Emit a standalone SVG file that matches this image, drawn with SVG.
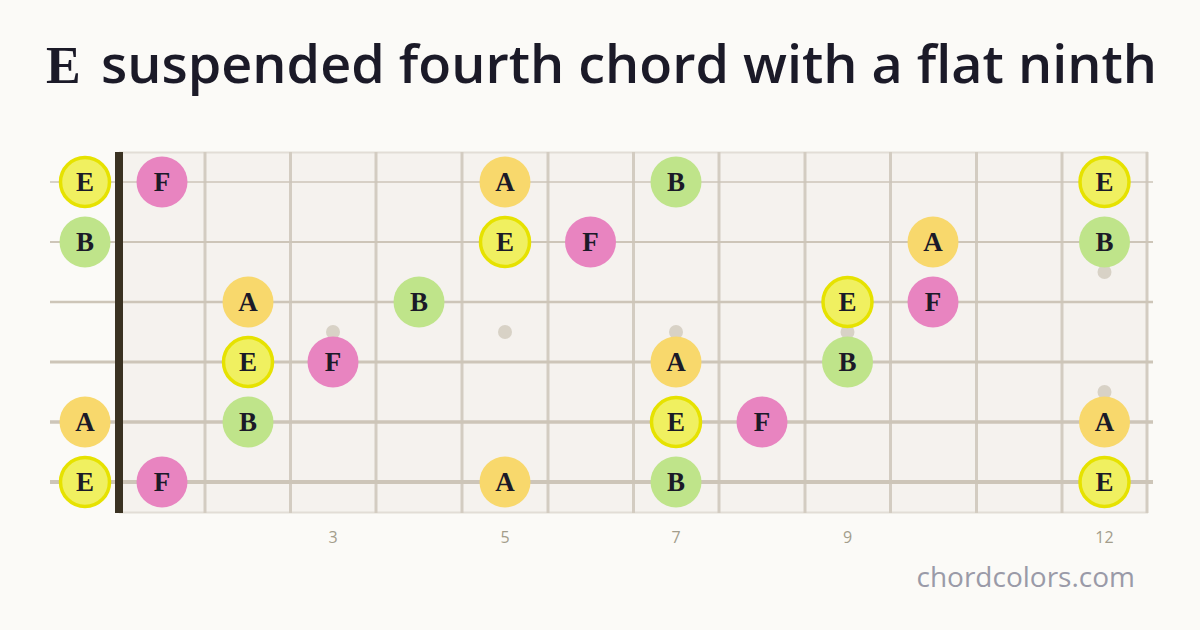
<svg xmlns="http://www.w3.org/2000/svg" width="1200" height="630" viewBox="0 0 1200 630">
<style>
.str{stroke:#cdc5b8;}
.fret{stroke:#d3ccc1;stroke-width:3;}
.dot{fill:#d8d2c6;}
.n{font-family:"Liberation Serif",serif;font-weight:bold;font-size:27px;fill:#1b1a28;text-anchor:middle;dominant-baseline:central;}
.E{fill:#f0f060;stroke:#e6e200;stroke-width:3.5;}
.A{fill:#f8d86c;}
.B{fill:#bfe48a;}
.F{fill:#e884c0;}
.fn{font-family:"Open Sans",sans-serif;font-size:16px;fill:#a39d8b;text-anchor:middle;}
</style>
<rect width="1200" height="630" fill="#fbfaf7"/>
<text x="46" y="83" font-family="Liberation Serif,serif" font-weight="bold" font-size="52" fill="#1b1a28">E</text>
<text x="101" y="83" font-family="Open Sans,sans-serif" font-weight="600" font-size="52" fill="#1b1a28" textLength="1056" lengthAdjust="spacingAndGlyphs">suspended fourth chord with a flat ninth</text>
<g id="fretboard">
<rect x="119" y="152" width="1029" height="361" fill="#f5f2ee"/>
<line x1="119" y1="152.5" x2="1148" y2="152.5" stroke="#e2ddd6" stroke-width="2"/>
<line x1="119" y1="512.5" x2="1148" y2="512.5" stroke="#e2ddd6" stroke-width="2"/>
<g id="frets">
<line class="fret" x1="205" y1="152" x2="205" y2="513"/>
<line class="fret" x1="290.5" y1="152" x2="290.5" y2="513"/>
<line class="fret" x1="376" y1="152" x2="376" y2="513"/>
<line class="fret" x1="462" y1="152" x2="462" y2="513"/>
<line class="fret" x1="548" y1="152" x2="548" y2="513"/>
<line class="fret" x1="633.5" y1="152" x2="633.5" y2="513"/>
<line class="fret" x1="719" y1="152" x2="719" y2="513"/>
<line class="fret" x1="805" y1="152" x2="805" y2="513"/>
<line class="fret" x1="890.5" y1="152" x2="890.5" y2="513"/>
<line class="fret" x1="976.5" y1="152" x2="976.5" y2="513"/>
<line class="fret" x1="1062" y1="152" x2="1062" y2="513"/>
<line class="fret" x1="1147" y1="152" x2="1147" y2="513"/>
</g>
<g id="inlays">
<circle class="dot" cx="333" cy="332" r="7"/>
<circle class="dot" cx="505" cy="332" r="7"/>
<circle class="dot" cx="676" cy="332" r="7"/>
<circle class="dot" cx="847.5" cy="332" r="7"/>
<circle class="dot" cx="1104.5" cy="272" r="7"/>
<circle class="dot" cx="1104.5" cy="392" r="7"/>
</g>
<g id="strings">
<line class="str" x1="50" y1="182" x2="1153" y2="182" stroke-width="1.6"/>
<line class="str" x1="50" y1="242" x2="1153" y2="242" stroke-width="2"/>
<line class="str" x1="50" y1="302" x2="1153" y2="302" stroke-width="2.5"/>
<line class="str" x1="50" y1="362" x2="1153" y2="362" stroke-width="3"/>
<line class="str" x1="50" y1="422" x2="1153" y2="422" stroke-width="3.5"/>
<line class="str" x1="50" y1="482" x2="1153" y2="482" stroke-width="4"/>
</g>
<rect id="nut" x="115" y="152" width="8" height="361" fill="#3a3222"/>
</g>
<g id="fret-numbers">
<text class="fn" x="333" y="543">3</text>
<text class="fn" x="505" y="543">5</text>
<text class="fn" x="676" y="543">7</text>
<text class="fn" x="847.5" y="543">9</text>
<text class="fn" x="1104.5" y="543">12</text>
</g>
<g id="notes">
<g id="s1">
<circle class="E" cx="85" cy="182" r="24.5"/><text class="n" x="85" y="182">E</text>
<circle class="F" cx="162" cy="182" r="25.5"/><text class="n" x="162" y="182">F</text>
<circle class="A" cx="505" cy="182" r="25.5"/><text class="n" x="505" y="182">A</text>
<circle class="B" cx="676" cy="182" r="25.5"/><text class="n" x="676" y="182">B</text>
<circle class="E" cx="1104.5" cy="182" r="24.5"/><text class="n" x="1104.5" y="182">E</text>
</g>
<g id="s2">
<circle class="B" cx="85" cy="242" r="25.5"/><text class="n" x="85" y="242">B</text>
<circle class="E" cx="505" cy="242" r="24.5"/><text class="n" x="505" y="242">E</text>
<circle class="F" cx="590.5" cy="242" r="25.5"/><text class="n" x="590.5" y="242">F</text>
<circle class="A" cx="933" cy="242" r="25.5"/><text class="n" x="933" y="242">A</text>
<circle class="B" cx="1104.5" cy="242" r="25.5"/><text class="n" x="1104.5" y="242">B</text>
</g>
<g id="s3">
<circle class="A" cx="248" cy="302" r="25.5"/><text class="n" x="248" y="302">A</text>
<circle class="B" cx="419" cy="302" r="25.5"/><text class="n" x="419" y="302">B</text>
<circle class="E" cx="847.5" cy="302" r="24.5"/><text class="n" x="847.5" y="302">E</text>
<circle class="F" cx="933" cy="302" r="25.5"/><text class="n" x="933" y="302">F</text>
</g>
<g id="s4">
<circle class="E" cx="248" cy="362" r="24.5"/><text class="n" x="248" y="362">E</text>
<circle class="F" cx="333" cy="362" r="25.5"/><text class="n" x="333" y="362">F</text>
<circle class="A" cx="676" cy="362" r="25.5"/><text class="n" x="676" y="362">A</text>
<circle class="B" cx="847.5" cy="362" r="25.5"/><text class="n" x="847.5" y="362">B</text>
</g>
<g id="s5">
<circle class="A" cx="85" cy="422" r="25.5"/><text class="n" x="85" y="422">A</text>
<circle class="B" cx="248" cy="422" r="25.5"/><text class="n" x="248" y="422">B</text>
<circle class="E" cx="676" cy="422" r="24.5"/><text class="n" x="676" y="422">E</text>
<circle class="F" cx="762" cy="422" r="25.5"/><text class="n" x="762" y="422">F</text>
<circle class="A" cx="1104.5" cy="422" r="25.5"/><text class="n" x="1104.5" y="422">A</text>
</g>
<g id="s6">
<circle class="E" cx="85" cy="482" r="24.5"/><text class="n" x="85" y="482">E</text>
<circle class="F" cx="162" cy="482" r="25.5"/><text class="n" x="162" y="482">F</text>
<circle class="A" cx="505" cy="482" r="25.5"/><text class="n" x="505" y="482">A</text>
<circle class="B" cx="676" cy="482" r="25.5"/><text class="n" x="676" y="482">B</text>
<circle class="E" cx="1104.5" cy="482" r="24.5"/><text class="n" x="1104.5" y="482">E</text>
</g>
</g>
<text x="1135" y="587" text-anchor="end" font-family="Open Sans,sans-serif" font-size="28" fill="#9a9aa8">chordcolors.com</text>
</svg>
